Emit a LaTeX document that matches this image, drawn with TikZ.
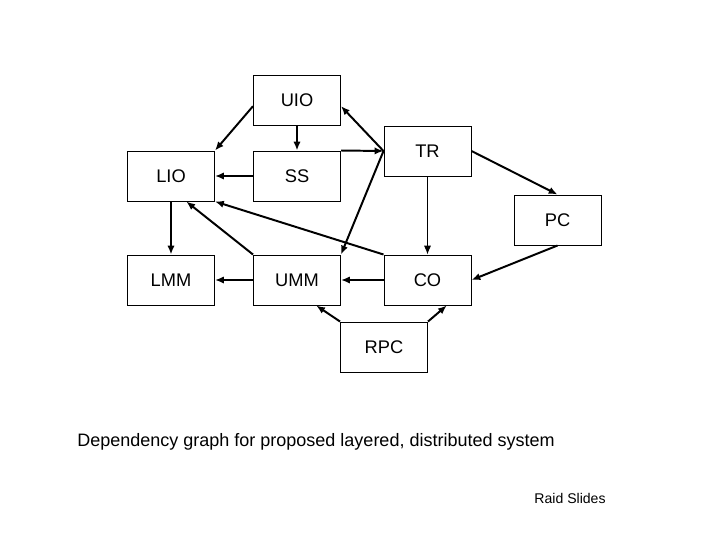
\documentclass[tikz,border=0pt]{standalone}
\usepackage{fontspec}
\setmainfont{Liberation Sans}
\usetikzlibrary{arrows.meta,positioning}

\begin{document}
\begin{tikzpicture}[
  x=0.025cm, y=-0.025cm,
  box/.style={rectangle, draw, line width=0.7pt, minimum width=2.175cm, minimum height=1.25cm, inner sep=0pt, align=center, font=\fontsize{13}{15}\selectfont},
  dep/.style={->, line width=1.4pt},
  >={Latex[length=2.2mm, width=1.8mm]}
]
\useasboundingbox (0,0) rectangle (720,540);

% Boxes of the layered system, placed at pixel coordinates
\node[box] (uio) at (297,100)   {UIO};
\node[box] (tr)  at (427.5,151) {TR};
\node[box] (lio) at (171,176)   {LIO};
\node[box] (ss)  at (297,176)   {SS};
\node[box] (pc)  at (557.5,220) {PC};
\node[box] (lmm) at (171,280)   {LMM};
\node[box] (umm) at (297,280)   {UMM};
\node[box] (co)  at (427.5,280) {CO};
\node[box] (rpc) at (384,347)   {RPC};

% Dependencies
\draw[dep] (uio.188) -- (lio.north east);
\draw[dep] (uio.south) -- (ss.north);
\draw[dep] (ss.west) -- (lio.east);
\draw[dep] (ss.north east) -- (tr.west);
\draw[dep] (tr.west) -- (uio.-8);
\draw[dep] (tr.west) -- (umm.north east);
\draw[->, line width=0.8pt] (tr.south) -- (co.north);
\draw[dep] (tr.east) -- (pc.north);
\draw[dep] (pc.south) -- (co.east);
\draw[dep] (co.west) -- (umm.east);
\draw[dep] (umm.west) -- (lmm.east);
\draw[dep] (lio.south) -- (lmm.north);
\draw[dep] (umm.north west) -- (lio.-59);
\draw[dep] (co.north west) -- (lio.south east);
\draw[dep] (rpc.north west) -- (umm.-53);
\draw[dep] (rpc.north east) -- (co.-53);

% Caption and footer
\node[font=\fontsize{12.8}{15}\selectfont] (caption) at (316,442) {Dependency graph for proposed layered, distributed system};
\node[font=\fontsize{10}{12}\selectfont] (footer) at (570,498) {Raid Slides};
\end{tikzpicture}
\end{document}
